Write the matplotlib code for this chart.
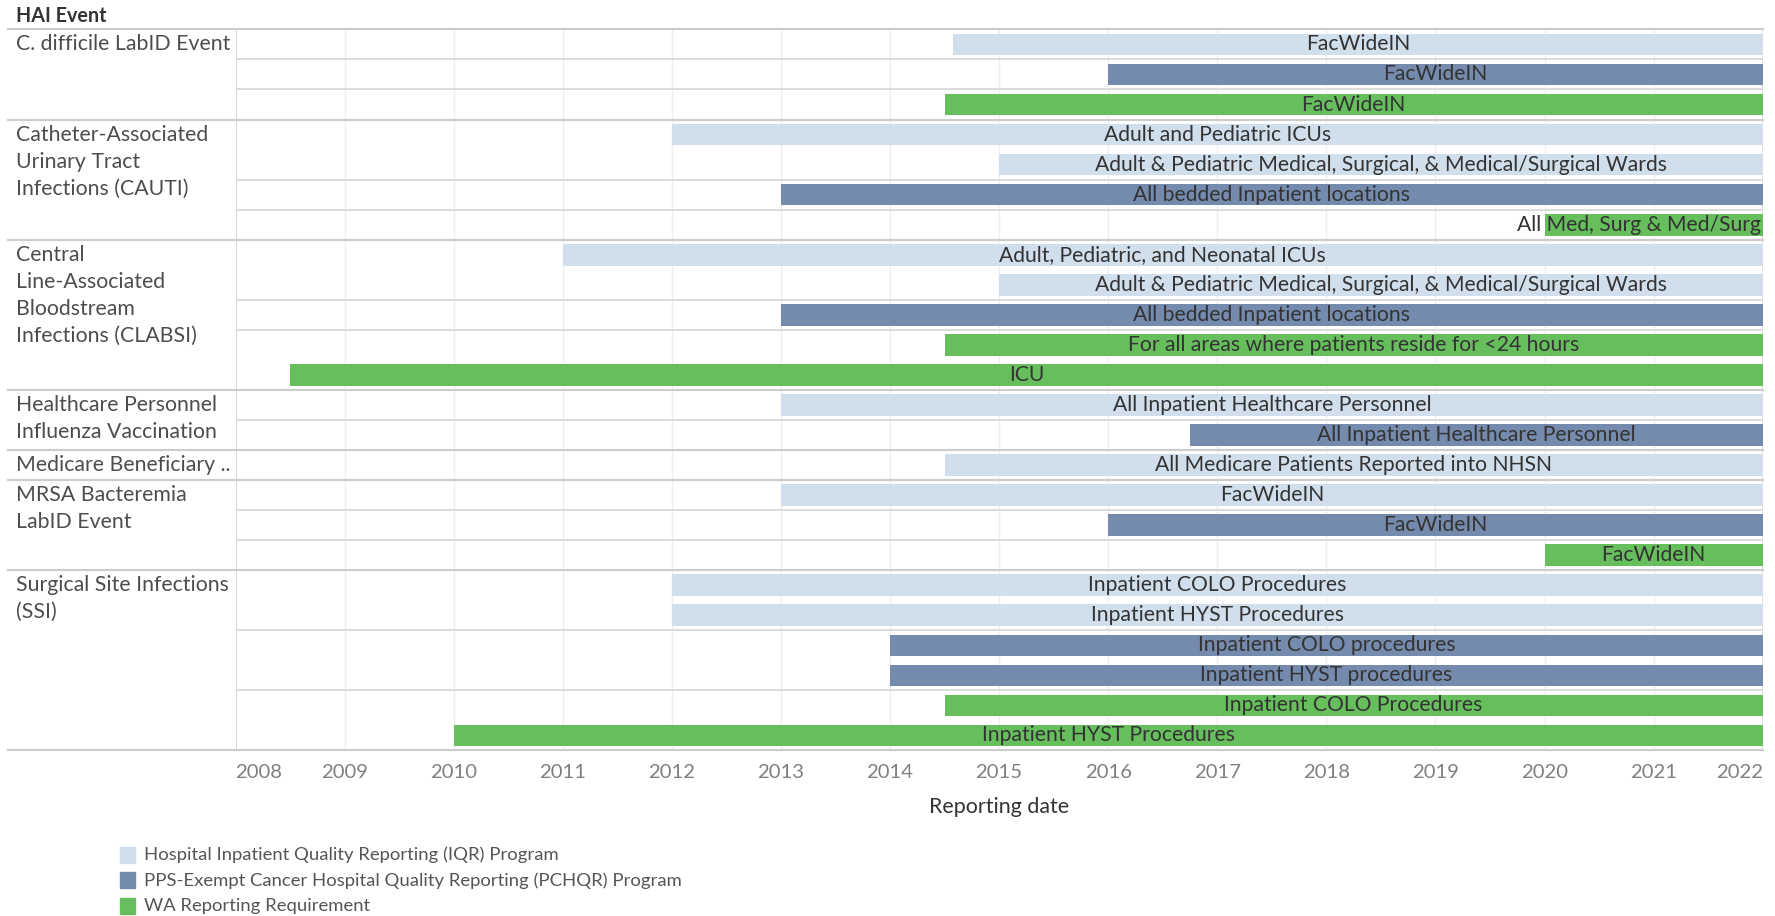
import matplotlib
matplotlib.use("Agg")
import matplotlib.pyplot as plt
from matplotlib.patches import Rectangle
from matplotlib.transforms import blended_transform_factory

plt.rcParams['font.family'] = ['Lato', 'DejaVu Sans']

# data: one entry per bar row
events = ["CDI"] * 3 + ["CAUTI"] * 4 + ["CLABSI"] * 5 + ["HCP"] * 2 + ["MED"] + ["MRSA"] * 3 + ["SSI"] * 6
programs = ["IQR", "PCHQR", "WA",
            "IQR", "IQR", "PCHQR", "WA",
            "IQR", "IQR", "PCHQR", "WA", "WA",
            "IQR", "PCHQR",
            "IQR",
            "IQR", "PCHQR", "WA",
            "IQR", "IQR", "PCHQR", "PCHQR", "WA", "WA"]
starts = [2014.58, 2016.0, 2014.5,
          2012.0, 2015.0, 2013.0, 2020.0,
          2011.0, 2015.0, 2013.0, 2014.5, 2008.5,
          2013.0, 2016.75,
          2014.5,
          2013.0, 2016.0, 2020.0,
          2012.0, 2012.0, 2014.0, 2014.0, 2014.5, 2010.0]
ends = [2022.0] * 24
labels = ["FacWideIN", "FacWideIN", "FacWideIN",
          "Adult and Pediatric ICUs",
          "Adult & Pediatric Medical, Surgical, & Medical/Surgical Wards",
          "All bedded Inpatient locations",
          "All Med, Surg & Med/Surg",
          "Adult, Pediatric, and Neonatal ICUs",
          "Adult & Pediatric Medical, Surgical, & Medical/Surgical Wards",
          "All bedded Inpatient locations",
          "For all areas where patients reside for <24 hours",
          "ICU",
          "All Inpatient Healthcare Personnel",
          "All Inpatient Healthcare Personnel",
          "All Medicare Patients Reported into NHSN",
          "FacWideIN", "FacWideIN", "FacWideIN",
          "Inpatient COLO Procedures", "Inpatient HYST Procedures",
          "Inpatient COLO procedures", "Inpatient HYST procedures",
          "Inpatient COLO Procedures", "Inpatient HYST Procedures"]

group_keys = ["CDI", "CAUTI", "CLABSI", "HCP", "MED", "MRSA", "SSI"]
group_names = [["C. difficile LabID Event"],
               ["Catheter-Associated", "Urinary Tract", "Infections (CAUTI)"],
               ["Central", "Line-Associated", "Bloodstream", "Infections (CLABSI)"],
               ["Healthcare Personnel", "Influenza Vaccination"],
               ["Medicare Beneficiary .."],
               ["MRSA Bacteremia", "LabID Event"],
               ["Surgical Site Infections", "(SSI)"]]

prog_keys = ["IQR", "PCHQR", "WA"]
prog_names = ["Hospital Inpatient Quality Reporting (IQR) Program",
              "PPS-Exempt Cancer Hospital Quality Reporting (PCHQR) Program",
              "WA Reporting Requirement"]
years = list(range(2008, 2023))

colors = {"IQR": "#d1dfec", "PCHQR": "#758bad", "WA": "#66bf5c"}

W, H = 1775, 916
fig = plt.figure(figsize=(W / 100, H / 100), dpi=100)
x0, x1, y0, y1 = 235.5, 1762.7, 29.4, 750.5
ax = fig.add_axes([x0 / W, 1 - y1 / H, (x1 - x0) / W, (y1 - y0) / H])
n = len(labels)
ax.set_xlim(2008, 2022.0)
ax.set_ylim(n - 0.5, -0.5)
for s in ax.spines.values():
    s.set_visible(False)
ax.set_yticks([])

# vertical year gridlines
for yr in years[1:-1]:
    ax.axvline(yr, color="#eeeeee", lw=1, zorder=0)
ax.axvline(2008, color="#cfcfcf", lw=1.2, zorder=1)
ax.axvline(2022.0, color="#dcdcdc", lw=1.2, zorder=1)

# bars + labels (centered; right-aligned when the label is wider than the bar)
renderer = fig.canvas.get_renderer()
for i in range(n):
    bars = ax.barh(i, ends[i] - starts[i], left=starts[i], height=0.72,
                   color=colors[programs[i]], zorder=2)
    t = ax.text((starts[i] + ends[i]) / 2, i, labels[i], ha="center", va="center",
                fontsize=15.2, color="#333333", zorder=3)
    tw = t.get_window_extent(renderer).width
    bw = bars[0].get_window_extent(renderer).width
    if tw > bw:
        t.set_x(ends[i] - 0.02)
        t.set_horizontalalignment("right")

# separators
tr = blended_transform_factory(ax.transAxes, ax.transData)
xl = (7.6 - x0) / (x1 - x0)
ax.plot([xl, 1], [-0.5, -0.5], transform=tr, color="#cccccc", lw=1.5, clip_on=False)
for i in range(n):
    last = i == n - 1 or events[i + 1] != events[i]
    if last:
        ax.plot([xl, 1], [i + 0.5, i + 0.5], transform=tr, color="#cccccc",
                lw=1.5, clip_on=False, zorder=1)
    elif programs[i + 1] != programs[i]:
        ax.axhline(i + 0.5, color="#d6d6d6", lw=1.2, zorder=1)

# group labels
xt = (16 - x0) / (x1 - x0)
for key, lines in zip(group_keys, group_names):
    first = events.index(key)
    for k, line in enumerate(lines):
        ax.text(xt, first + k * 0.9, line, transform=tr, ha="left", va="center",
                fontsize=15.3, color="#4d4d4d", clip_on=False)
ax.text(xt, -0.96, "HAI Event", transform=tr, ha="left", va="center",
        fontsize=14.2, fontweight="bold", color="#333333", clip_on=False)

# x axis
ax.set_xticks(years)
ax.set_xticklabels([str(y) for y in years], fontsize=14.6, color="#808080")
ax.tick_params(axis="x", length=0, pad=10)
tl = ax.get_xticklabels()
tl[0].set_horizontalalignment("left")
tl[-1].set_horizontalalignment("right")
ax.set_xlabel("Reporting date", fontsize=15.4, color="#333333", labelpad=11)

# legend
for j, (key, name) in enumerate(zip(prog_keys, prog_names)):
    yc = 855 + 25.3 * j
    fig.patches.append(Rectangle((120 / W, 1 - (yc + 8) / H), 15 / W, 16 / H,
                                 transform=fig.transFigure, color=colors[key]))
    fig.text(144 / W, 1 - yc / H, name, ha="left", va="center",
             fontsize=13.3, color="#555555")

plt.savefig("out.png", dpi=100)
